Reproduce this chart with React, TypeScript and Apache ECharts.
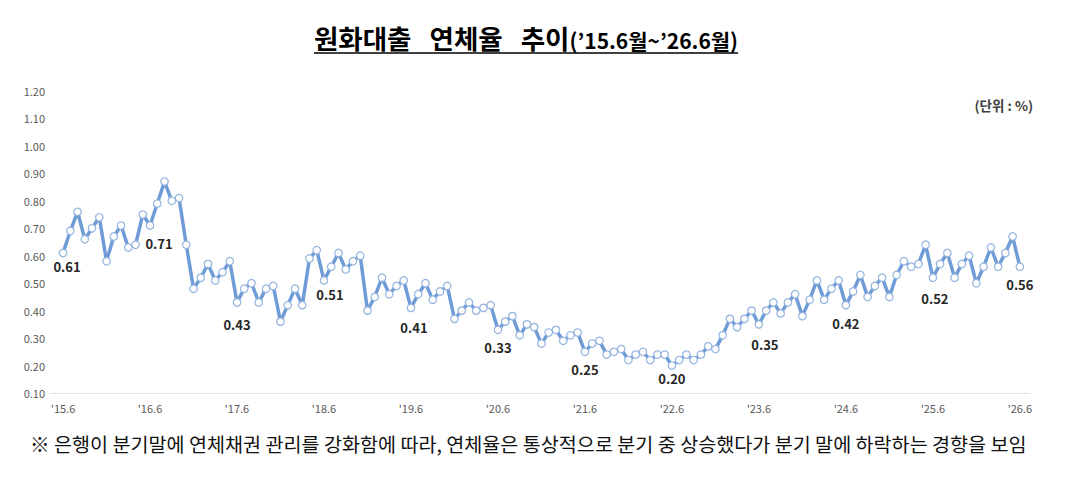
import { useEffect, useRef } from "react";
import * as echarts from "echarts";

// year-start tick labels, one every 12 months ('15.6 .. '26.6)
const YEAR_TICKS = [
  "'15.6", "'16.6", "'17.6", "'18.6", "'19.6", "'20.6",
  "'21.6", "'22.6", "'23.6", "'24.6", "'25.6", "'26.6",
];
const MONTHS_PER_TICK = 12;

// monthly delinquency rate (%), '15.6 .. '26.6
const RATE_15 = [0.61, 0.69, 0.76, 0.66, 0.70, 0.74, 0.58];
const RATE_16 = [0.67, 0.71, 0.63, 0.64, 0.75, 0.71, 0.79, 0.87, 0.80, 0.81, 0.64, 0.48];
const RATE_17 = [0.52, 0.57, 0.51, 0.54, 0.58, 0.43, 0.48, 0.50, 0.43, 0.48, 0.49, 0.36];
const RATE_18 = [0.42, 0.48, 0.42, 0.59, 0.62, 0.51, 0.56, 0.61, 0.55, 0.58, 0.60, 0.40];
const RATE_19 = [0.45, 0.52, 0.46, 0.49, 0.51, 0.41, 0.46, 0.50, 0.44, 0.47, 0.49, 0.37];
const RATE_20 = [0.40, 0.43, 0.40, 0.41, 0.42, 0.33, 0.36, 0.38, 0.31, 0.35, 0.34, 0.28];
const RATE_21 = [0.32, 0.33, 0.29, 0.31, 0.32, 0.25, 0.28, 0.29, 0.24, 0.25, 0.26, 0.22];
const RATE_22 = [0.24, 0.25, 0.22, 0.24, 0.24, 0.20, 0.22, 0.24, 0.22, 0.24, 0.27, 0.26];
const RATE_23 = [0.31, 0.37, 0.34, 0.37, 0.40, 0.35, 0.40, 0.43, 0.39, 0.43, 0.46, 0.38];
const RATE_24 = [0.44, 0.51, 0.44, 0.48, 0.51, 0.42, 0.47, 0.53, 0.45, 0.49, 0.52, 0.45];
const RATE_25 = [0.53, 0.58, 0.56, 0.57, 0.64, 0.52, 0.57, 0.61, 0.52, 0.57, 0.60, 0.50];
const RATE_26 = [0.56, 0.63, 0.56, 0.61, 0.67, 0.56];

const RATES = [
  ...RATE_15, ...RATE_16, ...RATE_17, ...RATE_18, ...RATE_19, ...RATE_20,
  ...RATE_21, ...RATE_22, ...RATE_23, ...RATE_24, ...RATE_25, ...RATE_26,
];

const TITLE_MAIN = "원화대출   연체율   추이";
const TITLE_SUB = "(’15.6월~’26.6월)";
const UNIT_TEXT = "(단위 : %)";
const NOTE_TEXT =
  "※ 은행이 분기말에 연체채권 관리를 강화함에 따라, 연체율은 통상적으로 분기 중 상승했다가 분기 말에 하락하는 경향을 보임";

const FONT = '"Noto Sans CJK KR", "Noto Sans", sans-serif';
const LINE_COLOR = "#6f9bd6";

// nudges for the June value labels so they sit where the original puts them
const LABEL_NUDGE: Record<number, [number, number]> = {
  0: [4, -4],
  12: [9, 0],
  24: [0, 4],
  36: [6, -4],
  48: [3, 2],
  84: [0, -5],
  96: [6, 2],
  120: [2, 3],
};

const measure = (text: string, font: string) => {
  const ctx = document.createElement("canvas").getContext("2d");
  if (!ctx) return text.length * 14;
  ctx.font = font;
  return ctx.measureText(text).width;
};

export default function App() {
  const ref = useRef<HTMLDivElement | null>(null);

  useEffect(() => {
    if (!ref.current) return;
    const chart = echarts.init(ref.current, null, { renderer: "svg" });

    const mainFont = `bold 26.5px ${FONT}`;
    const subFont = `bold 21px ${FONT}`;
    const mainW = measure(TITLE_MAIN, mainFont);
    const subW = measure(TITLE_SUB, subFont);
    const titleLeft = 526 - (mainW + subW) / 2;

    const seriesData = RATES.map((v, i) => {
      const june = i % MONTHS_PER_TICK === 0;
      return {
        value: [i, v],
        label: june
          ? { show: true, offset: LABEL_NUDGE[i] ?? [0, 0] }
          : { show: false },
      };
    });

    chart.setOption({
      animation: false,
      backgroundColor: "#ffffff",
      grid: { left: 50, right: 60, top: 91, bottom: 103 },
      xAxis: {
        type: "value",
        min: -1.8,
        max: 133.4,
        axisLine: { show: true, onZero: false, lineStyle: { color: "#e3e3e3", width: 1 } },
        axisTick: { show: false },
        splitLine: { show: false },
        axisLabel: {
          customValues: YEAR_TICKS.map((_, k) => k * MONTHS_PER_TICK),
          formatter: (v: number) => YEAR_TICKS[Math.round(v / MONTHS_PER_TICK)] ?? "",
          color: "#595959",
          fontSize: 11,
          fontFamily: FONT,
          margin: 9,
        },
      },
      yAxis: {
        type: "value",
        min: 0.1,
        max: 1.2,
        interval: 0.1,
        axisLine: { show: false },
        axisTick: { show: false },
        splitLine: { show: false },
        axisLabel: {
          formatter: (v: number) => v.toFixed(2),
          color: "#595959",
          fontSize: 11,
          fontFamily: FONT,
          margin: 5,
        },
      },
      series: [
        {
          type: "line",
          data: seriesData,
          symbol: "circle",
          symbolSize: 7.5,
          lineStyle: { color: LINE_COLOR, width: 3.5 },
          itemStyle: { color: "#ffffff", borderColor: "#94b4de", borderWidth: 1.2 },
          label: {
            position: "bottom",
            distance: 7,
            fontSize: 13,
            fontWeight: "bold",
            color: "#262626",
            fontFamily: FONT,
            formatter: (p: any) => Number(p.value[1]).toFixed(2),
          },
          emphasis: { disabled: true },
        },
      ],
      graphic: [
        {
          type: "text",
          x: titleLeft,
          y: 37,
          style: {
            text: TITLE_MAIN,
            font: mainFont,
            fill: "#000000",
            verticalAlign: "middle",
          },
        },
        {
          type: "text",
          x: titleLeft + mainW,
          y: 39.5,
          style: {
            text: TITLE_SUB,
            font: subFont,
            fill: "#000000",
            verticalAlign: "middle",
          },
        },
        {
          type: "line",
          shape: { x1: titleLeft, y1: 53, x2: titleLeft + mainW + subW, y2: 53 },
          style: { stroke: "#000000", lineWidth: 1.5 },
        },
        {
          type: "text",
          x: 1033,
          y: 105,
          style: {
            text: UNIT_TEXT,
            font: `bold 13.5px ${FONT}`,
            fill: "#404040",
            align: "right",
            verticalAlign: "middle",
          },
        },
        {
          type: "text",
          x: 30,
          y: 443,
          style: {
            text: NOTE_TEXT,
            font: `19.6px ${FONT}`,
            fill: "#111111",
            verticalAlign: "middle",
          },
        },
      ],
    });

    return () => chart.dispose();
  }, []);

  return (
    <div
      ref={ref}
      style={{ position: "absolute", left: 0, top: 0, width: 1090, height: 496, background: "#fff" }}
    />
  );
}
